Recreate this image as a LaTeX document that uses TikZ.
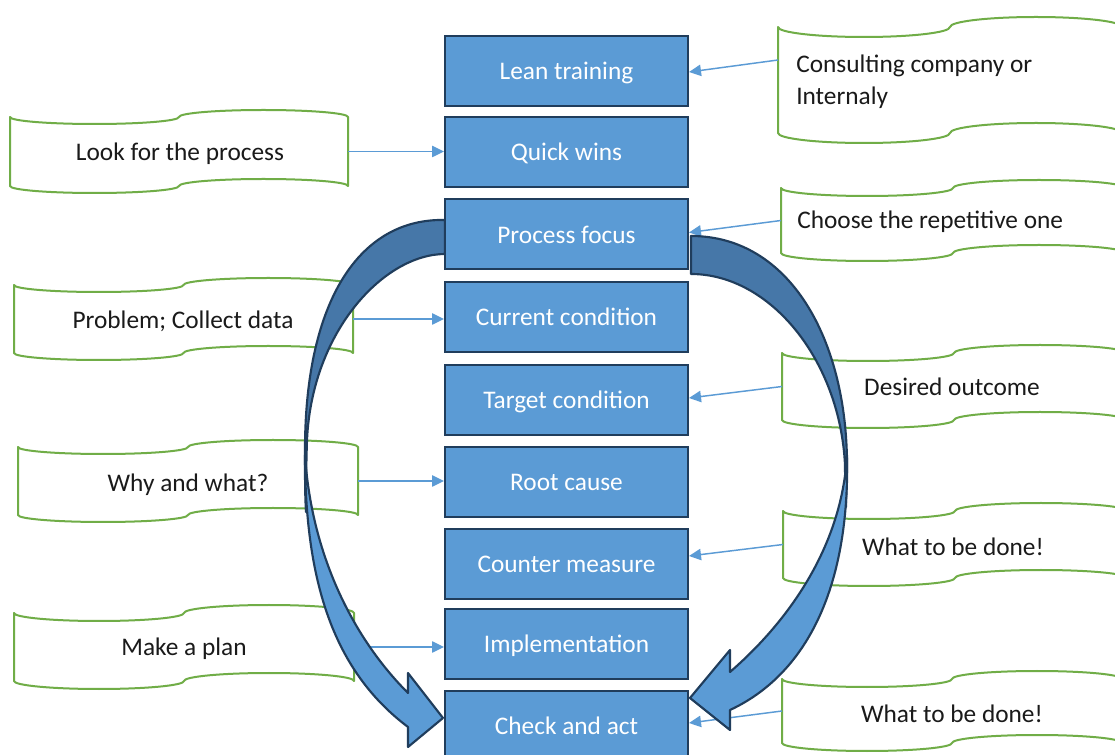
\documentclass[tikz,border=0pt]{standalone}
\usepackage{fontspec}
\setmainfont{Carlito}
\usetikzlibrary{arrows.meta,calc}

\definecolor{boxblue}{HTML}{5B9BD5}
\definecolor{boxline}{HTML}{203D5C}
\definecolor{backblue}{HTML}{4677A8}
\definecolor{tapegreen}{HTML}{70AD47}
\definecolor{linkblue}{HTML}{5B9BD5}
\definecolor{inkblack}{HTML}{1A1A1A}

% Punched-tape outline: name, left x, top y, width, body height, wave amplitude
\newcommand\tapeshape[6]{%
  \pgfmathsetmacro\tpq{#4/4}%
  \pgfmathsetmacro\tpk{0.5523*#6}%
  \pgfmathsetmacro\tpr{0.5523*\tpq}%
  \pgfmathsetmacro\tpb{#3+#5}%
  \draw[tape] (#2,#3)
    .. controls (#2,{#3+\tpk}) and ({#2+\tpq-\tpr},{#3+#6}) .. ({#2+\tpq},{#3+#6})
    .. controls ({#2+\tpq+\tpr},{#3+#6}) and ({#2+2*\tpq},{#3+\tpk}) .. ({#2+2*\tpq},#3)
    .. controls ({#2+2*\tpq},{#3-\tpk}) and ({#2+3*\tpq-\tpr},{#3-#6}) .. ({#2+3*\tpq},{#3-#6})
    .. controls ({#2+3*\tpq+\tpr},{#3-#6}) and ({#2+#4},{#3-\tpk}) .. ({#2+#4},#3)
    -- ({#2+#4},\tpb)
    .. controls ({#2+#4},{\tpb-\tpk}) and ({#2+3*\tpq+\tpr},{\tpb-#6}) .. ({#2+3*\tpq},{\tpb-#6})
    .. controls ({#2+3*\tpq-\tpr},{\tpb-#6}) and ({#2+2*\tpq},{\tpb-\tpk}) .. ({#2+2*\tpq},\tpb)
    .. controls ({#2+2*\tpq},{\tpb+\tpk}) and ({#2+\tpq+\tpr},{\tpb+#6}) .. ({#2+\tpq},{\tpb+#6})
    .. controls ({#2+\tpq-\tpr},{\tpb+#6}) and (#2,{\tpb+\tpk}) .. (#2,\tpb)
    -- cycle;
  \node[tapebody, minimum width={#4*0.75pt}, minimum height={#5*0.75pt}]
    (#1) at ({#2+#4/2},{#3+#5/2}) {};%
}

\begin{document}
\begin{tikzpicture}[x=0.75pt, y=-0.75pt,
  tape/.style={draw=tapegreen, line width=1.5pt, fill=white, line join=round},
  tapebody/.style={inner sep=0pt, outer sep=0pt},
  note/.style={text=inkblack, font=\fontsize{19}{24}\selectfont, inner sep=0pt,
    text height=14pt, text depth=1pt},
  stepbox/.style={draw=boxline, fill=boxblue, line width=1.5pt, text=white,
    minimum width=182.25pt, minimum height=52.5pt, inner sep=0pt,
    text height=14pt, text depth=1pt,
    font=\fontsize{19}{23}\selectfont},
  link/.style={draw=linkblue, line width=1.1pt,
    -{Triangle[length=9pt, width=8.5pt]}},
  bigarrow/.style={draw=boxline, line width=1.6pt, line join=round},
]
\fill[white] (0,0) rectangle (1115,755);
\clip (0,0) rectangle (1115,755);

% ---- note shapes, left column ----
\tapeshape{w1}{10}{117}{338}{69}{7}
\tapeshape{w2}{14}{285}{339}{68}{7}
\tapeshape{w3}{18}{447}{340}{68}{7}
\tapeshape{w4}{14}{613}{340}{68}{8}
% ---- note shapes, right column ----
\tapeshape{w5}{778}{27}{344}{106}{10}
\tapeshape{w6}{781}{188}{344}{65}{8}
\tapeshape{w7}{782}{353}{344}{67}{8}
\tapeshape{w8}{783}{511}{344}{67}{8}
\tapeshape{w9}{782}{679}{340}{64}{8}

\node[note] (t1) at (180,152) {Look for the process};
\node[note] (t2) at (183,320) {Problem; Collect data};
\node[note] (t3) at (188,483) {Why and what?};
\node[note] (t4) at (184,647) {Make a plan};
\node[text=inkblack, font=\fontsize{19}{24}\selectfont, inner sep=0pt,
  anchor=west, align=left] (t5) at (796,82) {Consulting company or\\Internaly};
\node[note, anchor=west] (t6) at (797,220) {Choose the repetitive one};
\node[note] (t7) at (952,387) {Desired outcome};
\node[note] (t8) at (953,547) {What to be done!};
\node[note] (t9) at (952,714) {What to be done!};

% ---- process steps ----
\path
  (566.5,71)  node[stepbox] (lt) {Lean training}
  (566.5,152) node[stepbox] (qw) {Quick wins}
  (566.5,234.5) node[stepbox] (pf) {Process focus}
  (566.5,317) node[stepbox] (cc) {Current condition}
  (566.5,400) node[stepbox] (tc) {Target condition}
  (566.5,482) node[stepbox] (rc) {Root cause}
  (566.5,564) node[stepbox] (cm) {Counter measure}
  (566.5,644) node[stepbox] (im) {Implementation}
  (566.5,726) node[stepbox] (ca) {Check and act};

% ---- note connectors ----
\draw[link] (w1.east) -- (w1.east -| qw.west);
\draw[link] (w2.east) -- (w2.east -| cc.west);
\draw[link] (w3.east) -- (w3.east -| rc.west);
\draw[link] (w4.east) -- (w4.east -| im.west);
\draw[link] ($(w5.west)+(0,-20)$) -- ($(lt.east)+(0,1)$);
\draw[link] (w6.west) -- ($(pf.east)+(0,-2)$);
\draw[link] (w7.west) -- ($(tc.east)+(0,-2)$);
\draw[link] (w8.west) -- ($(cm.east)+(0,-8)$);
\draw[link] (w9.west) -- ($(ca.east)+(0,-3)$);

% ---- left loop arrow: back face, then front band with head ----
\filldraw[bigarrow, fill=backblue]
  (445,220) .. controls (360,218) and (305,300) .. (305,450)
  .. controls (305,480) and (305,495) .. (306,512)
  .. controls (306,495) and (306,470) .. (307,440)
  .. controls (312,330) and (385,254) .. (445,254) -- cycle;
\filldraw[bigarrow, fill=boxblue]
  (305,455) .. controls (305,585) and (335,672) .. (408,727)
  -- (408,747) -- (443,718) -- (408,673) -- (408,693)
  .. controls (350,635) and (311,550) .. (305,455) -- cycle;

% ---- right loop arrow ----
\filldraw[bigarrow, fill=backblue]
  (691,236) .. controls (790,236) and (847,340) .. (847,465)
  .. controls (847,482) and (846,495) .. (846,507)
  .. controls (846,495) and (845,482) .. (845,465)
  .. controls (840,360) and (770,274) .. (691,274) -- cycle;
\filldraw[bigarrow, fill=boxblue]
  (847,455) .. controls (850,590) and (805,675) .. (730,710)
  -- (730,730) -- (690,698) -- (730,650) -- (730,672)
  .. controls (790,620) and (842,545) .. (847,455) -- cycle;

% ---- steps drawn again on top of the loop tails ----
\path
  (566.5,234.5) node[stepbox] (pf2) {Process focus}
  (566.5,726) node[stepbox] (ca2) {Check and act};
\end{tikzpicture}
\end{document}
